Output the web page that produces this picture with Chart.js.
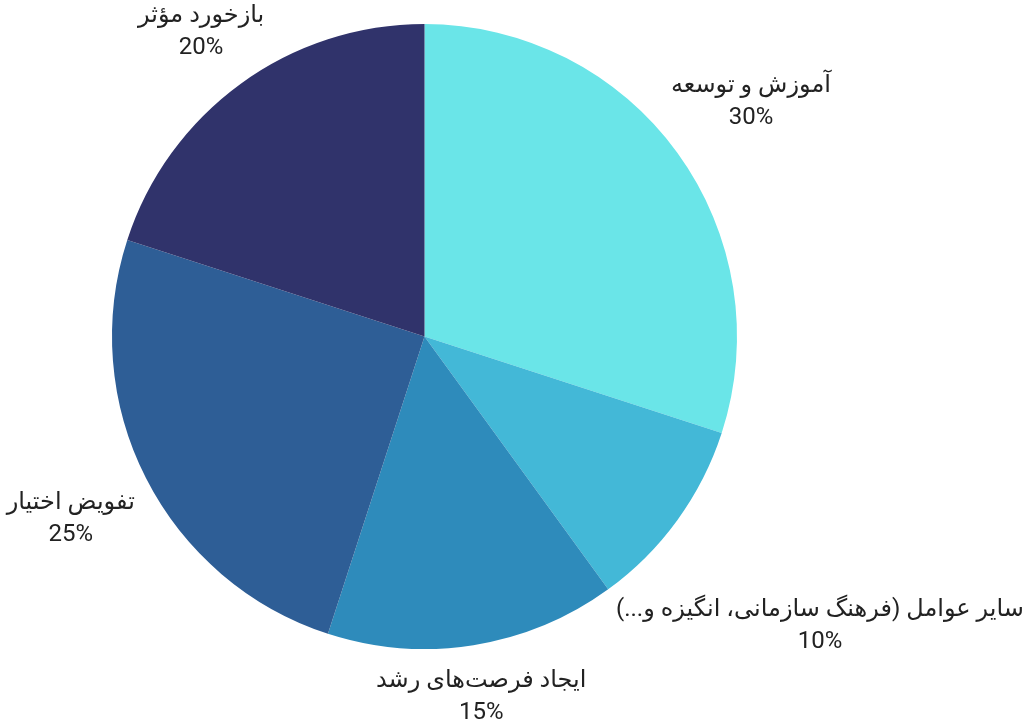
<!DOCTYPE html>
<html>
<head>
<meta charset="utf-8">
<script src="https://cdn.jsdelivr.net/npm/chart.js@4"></script>
<style>
  html, body { margin: 0; padding: 0; background: #fff; }
  #wrap { width: 1024px; height: 720px; }
</style>
</head>
<body>
<div id="wrap"><canvas id="pie"></canvas></div>
<script>
const labels = ['آموزش و توسعه', 'سایر عوامل (فرهنگ سازمانی، انگیزه و...)', 'ایجاد فرصت‌های رشد', 'تفویض اختیار', 'بازخورد مؤثر'];
const shares = [30, 10, 15, 25, 20];
const colors = ['#6ae5e8', '#43b8d7', '#2e8bbb', '#2e5e96', '#30336b'];

const labelFont = '24px Roboto, "Noto Sans", "DejaVu Sans", sans-serif';
const lineGap = 37;

// draws "name / pct%" outside each slice, pushed out further for wide labels
const outsideLabels = {
    id: 'outsideLabels',
    afterDatasetsDraw(chart) {
        const ctx = chart.ctx;
        const meta = chart.getDatasetMeta(0);
        ctx.save();
        ctx.font = labelFont;
        ctx.fillStyle = '#222';
        ctx.textAlign = 'center';
        ctx.textBaseline = 'middle';
        meta.data.forEach((arc, i) => {
            const p = arc.getProps(['x', 'y', 'startAngle', 'endAngle', 'outerRadius'], true);
            const mid = (p.startAngle + p.endAngle) / 2;
            const vx = Math.cos(mid), vy = Math.sin(mid);
            const line1 = labels[i];
            const line2 = shares[i] + '%';
            ctx.direction = 'rtl';
            const w = Math.max(ctx.measureText(line1).width, ctx.measureText(line2).width);
            const d = p.outerRadius + 36 + 0.85 * (w / 2) * Math.abs(vx);
            const cx = p.x + vx * d;
            const cy = p.y + vy * d;
            ctx.fillText(line1, cx, cy - lineGap / 2 + 5); // arabic glyphs sit high
            ctx.direction = 'ltr';
            ctx.fillText(line2, cx, cy + lineGap / 2);
        });
        ctx.restore();
    }
};

new Chart('pie', {
    type: 'pie',
    data: {
        labels: labels,
        datasets: [{
            data: shares,
            backgroundColor: colors,
            borderWidth: 0
        }]
    },
    options: {
        responsive: true,
        maintainAspectRatio: false,
        animation: false,
        layout: { padding: { top: 24, bottom: 71, left: 112, right: 287 } },
        plugins: {
            legend: { display: false },
            tooltip: { enabled: false }
        }
    },
    plugins: [outsideLabels]
});
</script>
</body>
</html>
